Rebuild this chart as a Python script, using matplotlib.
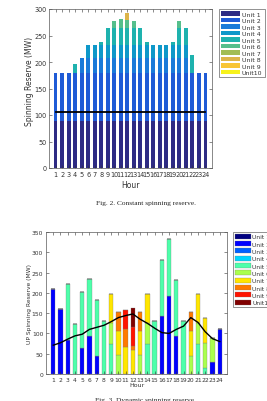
import numpy as np
import matplotlib
matplotlib.use('Agg')
import matplotlib.pyplot as plt

hours = list(range(1, 25))
unit_names = ['Unit 1', 'Unit 2', 'Unit 3', 'Unit 4', 'Unit 5',
              'Unit 6', 'Unit 7', 'Unit 8', 'Unit 9', 'Unit10']

# Fig. 2 - constant spinning reserve, MW per unit per hour
const_u1 = [88] * 24
const_u2 = [92] * 24
const_u3 = [0, 0, 0, 0, 27, 27, 27, 27, 27, 27, 27, 27, 27, 27, 27, 27, 27, 27, 27, 27, 27, 0, 0, 0]
const_u4 = [0, 0, 0, 0, 0, 26, 26, 26, 26, 26, 26, 26, 26, 26, 26, 26, 26, 26, 26, 26, 26, 0, 0, 0]
const_u5 = [0, 0, 0, 16, 0, 0, 0, 5, 32, 32, 32, 32, 32, 32, 5, 0, 0, 0, 5, 32, 32, 33, 0, 0]
const_u6 = [0, 0, 0, 0, 0, 0, 0, 0, 0, 13, 16, 15, 13, 0, 0, 0, 0, 0, 0, 13, 0, 0, 0, 0]
const_u7 = [0] * 24
const_u8 = [0, 0, 0, 0, 0, 0, 0, 0, 0, 0, 0, 13, 0, 0, 0, 0, 0, 0, 0, 0, 0, 0, 0, 0]
const_u9 = [0] * 24
const_u10 = [0] * 24
const_requirement = [105] * 24

# Fig. 3 - dynamic spinning reserve
dyn_u1 = [0] * 24
dyn_u2 = [210, 160, 83, 0, 64, 93, 44, 0, 0, 0, 0, 0, 0, 0, 0, 144, 193, 93, 0, 0, 0, 0, 30, 110]
dyn_u3 = [0] * 24
dyn_u4 = [0] * 24
dyn_u5 = [0, 0, 139, 123, 139, 140, 138, 131, 75, 0, 0, 0, 0, 75, 131, 138, 139, 139, 131, 0, 75, 16, 0, 0]
dyn_u6 = [0, 0, 0, 0, 0, 0, 0, 0, 50, 47, 0, 0, 47, 50, 0, 0, 0, 0, 0, 45, 50, 60, 58, 0]
dyn_u7 = [0, 0, 0, 0, 0, 0, 0, 0, 73, 59, 67, 58, 59, 73, 0, 0, 0, 0, 0, 61, 73, 61, 0, 0]
dyn_u8 = [0, 0, 0, 0, 0, 0, 0, 0, 0, 46, 43, 12, 46, 0, 0, 0, 0, 0, 0, 46, 0, 0, 0, 0]
dyn_u9 = [0, 0, 0, 0, 0, 0, 0, 0, 0, 0, 48, 47, 0, 0, 0, 0, 0, 0, 0, 0, 0, 0, 0, 0]
dyn_u10 = [0, 0, 0, 0, 0, 0, 0, 0, 0, 0, 0, 45, 0, 0, 0, 0, 0, 0, 0, 0, 0, 0, 0, 0]
dyn_requirement = [71, 77, 86, 94, 98, 110, 115, 120, 129, 139, 144, 148,
                   135, 125, 113, 102, 100, 110, 118, 139, 127, 104, 87, 80]

# parula-like colours for the first chart, jet for the second
parula = ['#2e2b84', '#1f5bd6', '#1a7ad9', '#0e98c9', '#1eb2ae',
          '#55bf8c', '#a2bd55', '#ddb54a', '#f8c535', '#f7f21c']
jet = plt.cm.jet(np.linspace(0, 1, 10))

txt = '0.2'
plt.rcParams['font.family'] = 'DejaVu Sans'

fig = plt.figure(figsize=(2.67, 4.02), dpi=100)


def style_axes(ax, fs):
    ax.set_xlim(0, 25)
    ax.set_xticks(hours)
    ax.tick_params(direction='in', length=2, width=0.4, top=True, right=True,
                   labelsize=fs, colors=txt, pad=2)
    for s in ax.spines.values():
        s.set_linewidth(0.5)
        s.set_color('0.35')


def stacked(ax, units, colors, width, **kw):
    bottom = np.zeros(24)
    handles = []
    for vals, c in zip(units, colors):
        vals = np.array(vals, dtype=float)
        h = ax.bar(hours, vals, width, bottom=bottom, color=c, **kw)
        handles.append(h)
        bottom += vals
    return handles


# ---- Fig. 2
ax1 = fig.add_axes([49 / 267, 1 - 169 / 402, 163 / 267, 159 / 402])
h1 = stacked(ax1, [const_u1, const_u2, const_u3, const_u4, const_u5,
                   const_u6, const_u7, const_u8, const_u9, const_u10],
             parula, 0.6, linewidth=0)
ax1.plot(hours, const_requirement, color='k', linewidth=1.3)
style_axes(ax1, 4.7)
ax1.set_ylim(0, 300)
ax1.set_yticks(range(0, 301, 50))
ax1.set_xlabel('Hour', fontsize=5.5, color=txt)
ax1.xaxis.set_label_coords(0.5, -0.075)
ax1.set_ylabel('Spinning Reserve (MW)', fontsize=5.5, color=txt)
ax1.yaxis.set_label_coords(-0.095, 0.55)
leg1 = ax1.legend(h1, unit_names, loc='upper left',
                  bbox_to_anchor=(219 / 267, 1 - 10 / 402),
                  bbox_transform=fig.transFigure, borderaxespad=0,
                  fontsize=4.5, labelspacing=0.15, handlelength=3.0,
                  handleheight=0.8, handletextpad=0.3, borderpad=0.35,
                  fancybox=False, framealpha=1, edgecolor='0.4')
leg1.get_frame().set_linewidth(0.5)
for t in leg1.get_texts():
    t.set_color(txt)

fig.text(146 / 267, 1 - 204 / 402, 'Fig. 2. Constant spinning reserve.',
         ha='center', va='center', fontsize=5.3, family='Liberation Serif', color='0.15')

# ---- Fig. 3
ax2 = fig.add_axes([46 / 267, 1 - 375 / 402, 181 / 267, 142 / 402])
h2 = stacked(ax2, [dyn_u1, dyn_u2, dyn_u3, dyn_u4, dyn_u5,
                   dyn_u6, dyn_u7, dyn_u8, dyn_u9, dyn_u10],
             jet, 0.6, edgecolor='0.45', linewidth=0.2)
ax2.plot(hours, dyn_requirement, color='k', linewidth=1.0)
style_axes(ax2, 4.3)
ax2.set_ylim(0, 350)
ax2.set_yticks(range(0, 351, 50))
ax2.set_xlabel('Hour', fontsize=4.5, color=txt)
ax2.xaxis.set_label_coords(0.5, -0.055)
ax2.set_ylabel('UP Spinning Reserve (MW)', fontsize=4.3, color=txt)
ax2.yaxis.set_label_coords(-0.075, 0.5)
leg2 = ax2.legend(h2, unit_names, loc='upper left',
                  bbox_to_anchor=(233 / 267, 1 - 233 / 402),
                  bbox_transform=fig.transFigure, borderaxespad=0,
                  fontsize=4.3, labelspacing=0.3, handlelength=2.7,
                  handleheight=0.9, handletextpad=0.2, borderpad=0.3,
                  fancybox=False, framealpha=1, edgecolor='0.4')
leg2.get_frame().set_linewidth(0.5)
for t in leg2.get_texts():
    t.set_color(txt)

fig.text(145 / 267, 1 - 401 / 402, 'Fig. 3. Dynamic spinning reserve.',
         ha='center', va='center', fontsize=5.3, family='Liberation Serif', color='0.15')

fig.savefig('out.png', dpi=100)
